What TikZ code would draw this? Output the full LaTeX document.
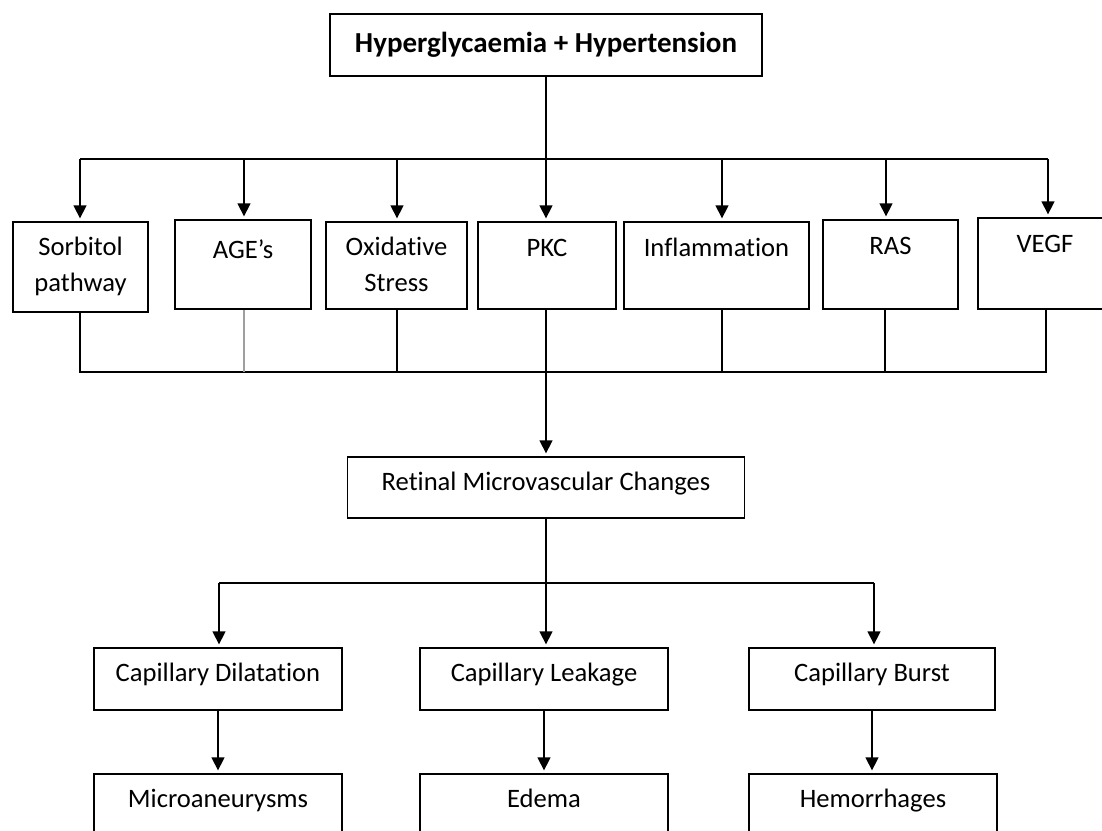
\documentclass[tikz,border=0pt]{standalone}
\usepackage{fontspec}
\setmainfont{Carlito}[Ligatures={NoCommon}]
\usetikzlibrary{arrows.meta}

\begin{document}
\begin{tikzpicture}[x=1pt,y=-1pt,>={Triangle[width=13pt,length=13pt]},
    line width=1.3pt,font=\fontsize{26.6}{36}\selectfont,
    box/.style={draw,rectangle,inner sep=0pt},
    txt/.style={anchor=base,inner sep=0pt,align=center,yshift=-35pt},
    arr/.style={->,shorten >=3pt}]
  \useasboundingbox (0,0) rectangle (1102,830);
  \clip (0,0) rectangle (1102,830);
  % ---------------- top: cause
  \node[box,minimum width=432pt,minimum height=62pt,font=\fontsize{29}{36}\selectfont\bfseries]
    (hyp) at (546,45) {Hyperglycaemia + Hypertension};
  % ---------------- middle row: pathways
  \node[box,minimum width=135pt,minimum height=90pt,label={[txt,yshift=-35pt]north:Sorbitol\\pathway}] (sorb) at (80.5,267) {};
  \node[box,minimum width=136pt,minimum height=89pt,label={[txt,yshift=-4pt]north:AGE’s}] (age) at (243,264.5) {};
  \node[box,minimum width=141pt,minimum height=87pt,label={[txt,yshift=-35pt]north:Oxidative\\Stress}] (oxs) at (396.5,265.5) {};
  \node[box,minimum width=138pt,minimum height=87pt,label={[txt]north:PKC}] (pkc) at (547,265.5) {};
  \node[box,minimum width=185pt,minimum height=87pt,label={[txt]north:Inflammation}] (infl) at (716.5,265.5) {};
  \node[box,minimum width=135pt,minimum height=89pt,label={[txt]north:RAS}] (ras) at (890.5,264.5) {};
  \node[box,minimum width=134pt,minimum height=91pt,label={[txt]north:VEGF}] (vegf) at (1045,263.5) {};
  % fan out
  \coordinate (hub) at (546,159);
  \coordinate (t1) at (80,159);
  \coordinate (t2) at (244,159);
  \coordinate (t3) at (397,159);
  \coordinate (t5) at (722,159);
  \coordinate (t6) at (886,159);
  \coordinate (t7) at (1048,159);
  \draw (hyp.south) -- (hub);
  \draw (t1) -- (t7);
  \draw[arr] (t1) -- (t1 |- sorb.north);
  \draw[arr] (t2) -- (t2 |- age.north);
  \draw[arr] (t3) -- (t3 |- oxs.north);
  \draw[arr] (hub) -- (hub |- pkc.north);
  \draw[arr] (t5) -- (t5 |- infl.north);
  \draw[arr] (t6) -- (t6 |- ras.north);
  \draw[arr] (t7) -- (t7 |- vegf.north);
  % gather
  \coordinate (b1) at (80,372);
  \coordinate (b2) at (244,372);
  \coordinate (b3) at (397,372);
  \coordinate (b4) at (546,372);
  \coordinate (b5) at (722,372);
  \coordinate (b6) at (885,372);
  \coordinate (b7) at (1046,372);
  \draw (b1 |- sorb.south) -- (b1) -- (b7) -- (b7 |- vegf.south);
  \draw[gray!75] (b2 |- age.south) -- (b2);
  \draw (b3 |- oxs.south) -- (b3);
  \draw (b4 |- pkc.south) -- (b4);
  \draw (b5 |- infl.south) -- (b5);
  \draw (b6 |- ras.south) -- (b6);
  % ---------------- retinal changes
  \node[box,minimum width=397pt,minimum height=61pt,label={[txt,yshift=1pt]north:Retinal Microvascular Changes}] (ret) at (546,487.5) {};
  \draw[arr] (b4) -- (ret.north);
  \coordinate (h2) at (546,583);
  \coordinate (l1) at (219,583);
  \coordinate (l3) at (874,583);
  \draw (ret.south) -- (h2);
  \draw (l1) -- (l3);
  % ---------------- capillary effects
  \node[box,minimum width=248pt,minimum height=62pt,label={[txt,yshift=1pt]north:Capillary Dilatation}] (cd) at (218,679) {};
  \node[box,minimum width=248pt,minimum height=62pt,label={[txt,yshift=1pt]north:Capillary Leakage}] (cl) at (544,679) {};
  \node[box,minimum width=246pt,minimum height=62pt,label={[txt,yshift=1pt]north:Capillary Burst}] (cb) at (872,679) {};
  \draw[arr] (l1) -- (l1 |- cd.north);
  \draw[arr] (h2) -- (h2 |- cl.north);
  \draw[arr] (l3) -- (l3 |- cb.north);
  % ---------------- lesions
  \node[box,minimum width=248pt,minimum height=62pt,label={[txt,yshift=1pt]north:Microaneurysms}] (micro) at (218,805) {};
  \node[box,minimum width=248pt,minimum height=62pt,label={[txt,yshift=1pt]north:Edema}] (edema) at (544,805) {};
  \node[box,minimum width=248pt,minimum height=62pt,label={[txt,yshift=1pt]north:Hemorrhages}] (hem) at (873,805) {};
  \draw[arr] (cd.south) -- (cd.south |- micro.north);
  \draw[arr] (cl.south) -- (cl.south |- edema.north);
  \draw[arr] (cb.south) -- (cb.south |- hem.north);
\end{tikzpicture}
\end{document}
